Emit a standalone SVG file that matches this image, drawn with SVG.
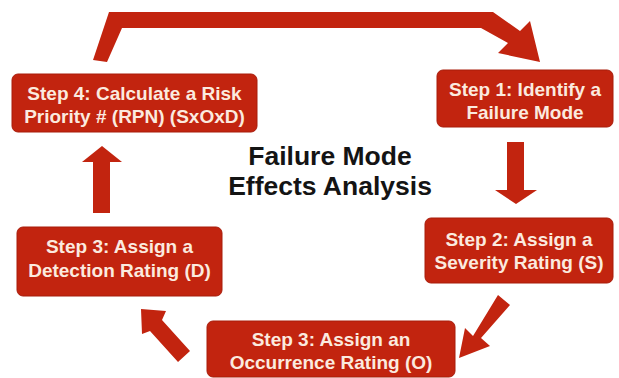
<svg xmlns="http://www.w3.org/2000/svg" width="619" height="378" viewBox="0 0 619 378">
  <style>
    .box { fill: #c2240f; stroke: #a81c0b; stroke-width: 1; }
    .lbl { font-family: "Liberation Sans", Arial, sans-serif; font-weight: bold; font-size: 19px; fill: #fbeadf; text-anchor: middle; }
    .title { font-family: "Liberation Sans", Arial, sans-serif; font-weight: bold; font-size: 26.5px; fill: #141414; text-anchor: middle; }
    .arrow { fill: #c2240f; }
  </style>
  <rect width="619" height="378" fill="#ffffff"/>

  <!-- connectors -->
  <g id="connectors">
    <!-- loop-back arrow from step 4 over the top to step 1 -->
    <polygon class="arrow" points="93,60 109,12 493,12 520,31 530,21 540,62 498,53 508,43 481,28 122,28 107,62"/>
    <!-- step 1 to step 2 -->
    <polygon class="arrow" points="507,142 524,142 524,190 537,190 516,204 495,190 507,190"/>
    <!-- step 2 to occurrence -->
    <polygon class="arrow" points="498,295 510,305 481,338 490,346 459,358 465,328 473,336"/>
    <!-- occurrence to detection -->
    <polygon class="arrow" points="190,351 178,362 150,331 142,334 141,309 166,311 162,320"/>
    <!-- detection to step 4 -->
    <polygon class="arrow" points="93,213 110,213 110,162 122,162 102,146 82,162 93,162"/>
  </g>

  <!-- title -->
  <g id="title">
    <text class="title" x="330" y="165">Failure Mode</text>
    <text class="title" x="330" y="195">Effects Analysis</text>
  </g>

  <g id="step4">
    <rect class="box" x="12" y="74" width="245" height="58" rx="6"/>
    <text class="lbl" x="134.5" y="100">Step 4: Calculate a Risk</text>
    <text class="lbl" x="134.5" y="123">Priority # (RPN) (SxOxD)</text>
  </g>

  <g id="step1">
    <rect class="box" x="437" y="70" width="176" height="57" rx="6"/>
    <text class="lbl" x="525" y="96">Step 1: Identify a</text>
    <text class="lbl" x="525" y="119">Failure Mode</text>
  </g>

  <g id="step2">
    <rect class="box" x="425" y="218" width="188" height="65" rx="6"/>
    <text class="lbl" x="519" y="246">Step 2: Assign a</text>
    <text class="lbl" x="519" y="269">Severity Rating (S)</text>
  </g>

  <g id="step3-detection">
    <rect class="box" x="17" y="227" width="205" height="69" rx="6"/>
    <text class="lbl" x="119.5" y="253">Step 3: Assign a</text>
    <text class="lbl" x="119.5" y="277">Detection Rating (D)</text>
  </g>

  <g id="step3-occurrence">
    <rect class="box" x="207" y="321" width="248" height="56" rx="6"/>
    <text class="lbl" x="331" y="346">Step 3: Assign an</text>
    <text class="lbl" x="331" y="369">Occurrence Rating (O)</text>
  </g>
</svg>
